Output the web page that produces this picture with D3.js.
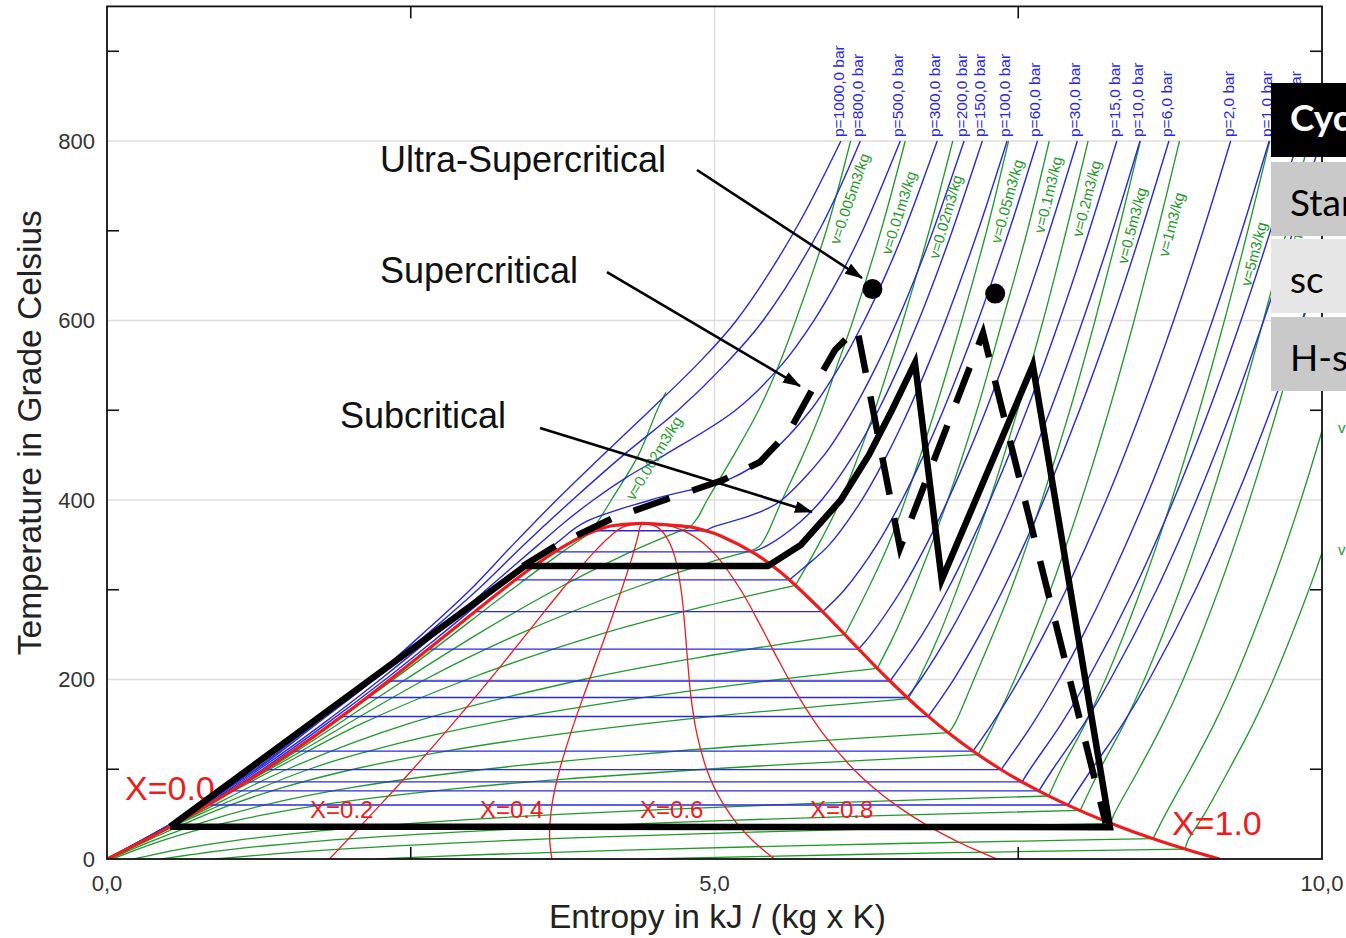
<!DOCTYPE html>
<html>
<head>
<meta charset="utf-8">
<title>Temperature-entropy diagram of water with Rankine cycles</title>
<script src="https://cdn.jsdelivr.net/npm/d3@7/dist/d3.min.js"></script>
<style>
  html, body { margin: 0; padding: 0; background: #fff; }
  svg { display: block; font-family: "Liberation Sans", Arial, sans-serif; }
</style>
</head>
<body>
<svg id="chart" width="1346" height="938"></svg>
<script>
// ---------------- data ----------------
// Saturation curve: temperature (°C), entropy of saturated liquid / vapour (kJ/kg K)
const satT  = [0.01, 10, 20, 30, 40, 50, 60, 70, 80, 90, 100, 120, 140, 160, 180, 200, 220, 240, 260, 280, 300, 320, 340, 360, 365, 370, 372, 373.5, 373.95];
const satSf = [0, 0.1511, 0.2965, 0.4368, 0.5724, 0.7038, 0.8313, 0.9551, 1.0756, 1.1929, 1.3072, 1.5279, 1.7392, 1.9426, 2.1392, 2.3305, 2.5177, 2.7020, 2.8849, 3.0685, 3.2552, 3.4494, 3.6601, 3.9167, 4.0026, 4.1112, 4.20, 4.32, 4.407];
const satSg = [9.1556, 8.8999, 8.6661, 8.4520, 8.2557, 8.0753, 7.9085, 7.7540, 7.6106, 7.4767, 7.3541, 7.1296, 6.9299, 6.7502, 6.5857, 6.4323, 6.2861, 6.1437, 6.0019, 5.8571, 5.7049, 5.5393, 5.3357, 5.0526, 4.9463, 4.8012, 4.64, 4.50, 4.407];

// Lines of constant vapour quality X inside the two-phase dome
const qualityX = [0.2, 0.4, 0.6, 0.8];
const qualityT = [0.01, 20, 40, 60, 80, 100, 140, 180, 220, 260, 300, 340, 360, 370, 373.95];
const qualityS = [
  [1.831, 1.970, 2.109, 2.247, 2.383, 2.517, 2.777, 3.029, 3.271, 3.508, 3.745, 3.995, 4.144, 4.249, 4.407],
  [3.662, 3.644, 3.646, 3.662, 3.690, 3.726, 3.816, 3.918, 4.025, 4.132, 4.235, 4.330, 4.371, 4.387, 4.407],
  [5.493, 5.318, 5.182, 5.078, 4.997, 4.935, 4.854, 4.807, 4.779, 4.755, 4.725, 4.666, 4.598, 4.525, 4.407],
  [7.325, 6.992, 6.719, 6.493, 6.304, 6.145, 5.892, 5.696, 5.532, 5.379, 5.215, 5.001, 4.825, 4.663, 4.407]
];

// Isobars (bar)
const isobarP = [1000, 800, 500, 300, 200, 150, 100, 60, 30, 15, 10, 6, 2, 1, 0.6, 0.4, 0.2];
// supercritical isobars, [T, s] from the compressed liquid up to 800 °C
const superIsobars = {
  1000: [[0, 0], [50, 0.66], [100, 1.22], [150, 1.70], [200, 2.17], [250, 2.59], [300, 2.99], [350, 3.34], [400, 3.70], [450, 4.08], [500, 4.47], [550, 4.85], [600, 5.18], [700, 5.66], [800, 6.04]],
  800:  [[0, 0], [50, 0.67], [100, 1.235], [150, 1.72], [200, 2.20], [250, 2.63], [300, 3.05], [350, 3.43], [400, 3.83], [450, 4.25], [500, 4.70], [550, 5.08], [600, 5.40], [700, 5.86], [800, 6.20]],
  500:  [[0, 0], [50, 0.69], [100, 1.254], [150, 1.77], [200, 2.249], [250, 2.70], [300, 3.121], [350, 3.55], [375, 3.764], [400, 4.003], [425, 4.273], [450, 4.588], [500, 5.173], [550, 5.549], [600, 5.818], [650, 6.034], [700, 6.219], [800, 6.529]],
  300:  [[0, 0], [50, 0.70], [100, 1.28], [150, 1.80], [200, 2.29], [250, 2.75], [300, 3.20], [350, 3.68], [375, 3.93], [400, 4.473], [425, 5.150], [450, 5.442], [500, 5.790], [550, 6.034], [600, 6.233], [650, 6.406], [700, 6.561], [800, 6.833]]
};
// subcritical isobars: saturation temperature, liquid and vapour entropy
const isobarSat = {
  200: [365.8, 4.016, 4.930], 150: [342.2, 3.685, 5.310], 100: [311.0, 3.360, 5.616],
  60: [275.6, 3.027, 5.890], 30: [233.9, 2.645, 6.186], 15: [198.3, 2.314, 6.445],
  10: [179.9, 2.138, 6.585], 6: [158.8, 1.931, 6.759], 2: [120.2, 1.530, 7.127],
  1: [99.6, 1.303, 7.359], 0.6: [85.9, 1.145, 7.532], 0.4: [75.9, 1.026, 7.670],
  0.2: [60.1, 0.832, 7.909]
};
// superheated branch of the subcritical isobars, [T, s]
const isobarVapour = {
  200: [[370, 4.99], [380, 5.24], [390, 5.43], [400, 5.554], [450, 5.902], [500, 6.140], [550, 6.335], [600, 6.505], [650, 6.658], [700, 6.799], [800, 7.054]],
  150: [[350, 5.444], [375, 5.70], [400, 5.882], [450, 6.143], [500, 6.348], [550, 6.523], [600, 6.680], [650, 6.823], [700, 6.957], [800, 7.204]],
  100: [[325, 5.74], [350, 5.944], [400, 6.212], [450, 6.419], [500, 6.597], [550, 6.756], [600, 6.903], [700, 7.169], [800, 7.408]],
  60:  [[300, 6.070], [350, 6.336], [400, 6.543], [450, 6.722], [500, 6.883], [600, 7.169], [700, 7.425], [800, 7.658]],
  30:  [[250, 6.287], [300, 6.539], [350, 6.743], [400, 6.921], [450, 7.083], [500, 7.234], [600, 7.509], [700, 7.757], [800, 7.986]],
  15:  [[250, 6.709], [300, 6.918], [350, 7.102], [400, 7.269], [500, 7.570], [600, 7.839], [700, 8.084], [800, 8.311]],
  10:  [[200, 6.696], [250, 6.927], [300, 7.125], [350, 7.303], [400, 7.467], [500, 7.764], [600, 8.031], [700, 8.276], [800, 8.502]],
  6:   [[200, 6.968], [250, 7.183], [300, 7.374], [350, 7.548], [400, 7.710], [500, 8.004], [600, 8.270], [700, 8.513], [800, 8.740]],
  2:   [[150, 7.281], [200, 7.508], [250, 7.710], [300, 7.894], [400, 8.224], [500, 8.515], [600, 8.779], [700, 9.022], [800, 9.248]],
  1:   [[150, 7.615], [200, 7.836], [250, 8.035], [300, 8.216], [400, 8.544], [500, 8.834], [600, 9.098], [700, 9.340], [800, 9.565]],
  0.6: [[100, 7.597], [150, 7.851], [200, 8.071], [300, 8.452], [400, 8.779], [500, 9.070], [600, 9.333], [700, 9.576], [800, 9.801]],
  0.4: [[100, 7.784], [150, 8.038], [200, 8.258], [300, 8.639], [400, 8.966], [500, 9.257], [600, 9.520], [700, 9.763], [800, 9.988]],
  0.2: [[100, 8.104], [150, 8.358], [200, 8.578], [300, 8.959], [400, 9.286], [500, 9.577], [600, 9.840], [700, 10.083]]
};
const labelledIsobars = [1000, 800, 500, 300, 200, 150, 100, 60, 30, 15, 10, 6, 2, 1, 0.6];

// Isochores (m3/kg): two-phase branch and single-phase branch, [T, s]
const isochoreV = [0.002, 0.005, 0.01, 0.02, 0.05, 0.1, 0.2, 0.5, 1, 5, 10, 20, 50, 100];
const isochoreWet = {
  0.002: [[0, 0], [100, 1.311], [200, 2.358], [300, 3.328], [340, 3.726], [363.5, 3.98]],
  0.005: [[0, 0], [100, 1.322], [200, 2.456], [250, 3.044], [300, 3.690], [340, 4.275], [360, 4.615], [369.8, 4.80]],
  0.01:  [[0, 0], [100, 1.34], [200, 2.618], [250, 3.380], [300, 4.295], [330, 4.946], [343, 5.29]],
  0.02:  [[0, 0], [100, 1.376], [150, 2.083], [200, 2.963], [250, 4.051], [280, 4.873], [305, 5.666]],
  0.05:  [[0, 0], [50, 0.734], [100, 1.484], [150, 2.465], [200, 3.920], [225, 4.891], [240, 5.572], [250, 6.073]],
  0.1:   [[0, 0], [50, 0.765], [100, 1.662], [120, 2.149], [140, 2.749], [160, 3.496], [180, 4.422], [200, 5.533], [212.4, 6.34]],
  0.2:   [[0, 0], [20, 0.325], [40, 0.651], [60, 1.012], [80, 1.457], [100, 2.027], [120, 2.780], [140, 3.773], [160, 5.068], [178.8, 6.596]],
  0.5:   [[0, 0.022], [20, 0.369], [40, 0.769], [60, 1.292], [80, 2.033], [100, 3.112], [120, 4.667], [130, 5.667], [140.7, 6.927]],
  1:     [[0, 0.044], [20, 0.441], [40, 0.966], [60, 1.754], [80, 2.993], [90, 3.853], [100, 4.920], [110, 6.226], [116.2, 7.17]],
  5:     [[0, 0.222], [10, 0.562], [20, 1.021], [30, 1.655], [40, 2.539], [50, 3.767], [60, 5.446], [65, 6.49], [70.2, 7.751]],
  10:    [[0, 0.444], [10, 0.974], [20, 1.745], [30, 2.874], [40, 4.507], [45, 5.573], [50, 6.826], [54.2, 8.01]],
  20:    [[0, 0.888], [10, 1.797], [20, 3.194], [25, 4.145], [30, 5.310], [35, 6.727], [39.6, 8.26]],
  50:    [[0, 2.221], [5, 3.119], [10, 4.263], [15, 5.717], [20, 7.541], [22.7, 8.61]],
  100:   [[0, 4.44], [5, 6.16], [8, 7.423], [11, 8.876]]
};
const isochoreDry = {
  0.002: [[363.5, 3.98], [380, 4.06], [400, 4.151], [450, 4.374], [500, 4.528], [520, 4.60]],
  0.005: [[369.8, 4.80], [380, 4.86], [400, 4.94], [450, 5.159], [500, 5.363], [550, 5.528], [600, 5.668], [700, 5.92], [800, 6.12]],
  0.01:  [[343, 5.29], [350, 5.38], [400, 5.556], [450, 5.728], [500, 5.882], [550, 6.01], [600, 6.14], [700, 6.37], [800, 6.57]],
  0.02:  [[305, 5.666], [350, 5.855], [400, 6.04], [450, 6.186], [500, 6.319], [600, 6.552], [700, 6.767], [800, 6.961]],
  0.05:  [[250, 6.073], [300, 6.26], [350, 6.43], [400, 6.57], [500, 6.815], [600, 7.035], [700, 7.24], [800, 7.42]],
  0.1:   [[212.4, 6.34], [250, 6.48], [300, 6.64], [400, 6.92], [500, 7.16], [600, 7.37], [700, 7.575], [800, 7.755]],
  0.2:   [[178.8, 6.596], [200, 6.68], [250, 6.85], [300, 6.995], [400, 7.265], [500, 7.495], [600, 7.705], [700, 7.895], [800, 8.075]],
  0.5:   [[140.7, 6.927], [150, 6.975], [200, 7.135], [300, 7.44], [400, 7.695], [500, 7.925], [600, 8.132], [700, 8.325], [800, 8.505]],
  1:     [[116.2, 7.17], [150, 7.30], [200, 7.47], [300, 7.765], [400, 8.02], [500, 8.247], [600, 8.454], [700, 8.647], [800, 8.827]],
  5:     [[70.2, 7.751], [100, 7.853], [150, 8.049], [200, 8.218], [300, 8.510], [400, 8.763], [500, 8.990], [600, 9.197], [700, 9.389], [800, 9.570]],
  10:    [[54.2, 8.01], [100, 8.173], [150, 8.369], [200, 8.538], [300, 8.830], [400, 9.083], [500, 9.310], [600, 9.517], [700, 9.709], [800, 9.890]],
  20:    [[39.6, 8.26], [50, 8.289], [100, 8.493], [150, 8.688], [200, 8.858], [300, 9.149], [400, 9.403], [500, 9.630], [600, 9.837], [700, 10.03]],
  50:    [[22.7, 8.61], [50, 8.712], [100, 8.916], [150, 9.111], [200, 9.281], [300, 9.572], [400, 9.826], [500, 10.05]],
  100:   [[11, 8.876], [20, 8.894], [50, 9.032], [100, 9.236], [150, 9.431], [200, 9.600], [300, 9.892], [400, 10.146]]
};
// temperature at which each isochore label starts ("edge": label just outside the right border)
const isochoreLabelT = {0.002: 410, 0.005: 690, 0.01: 678, 0.02: 673, 0.05: 690, 0.1: 701, 0.2: 697, 0.5: 667, 1: 675, 5: 642, 10: 650, 50: "edge", 100: "edge"};

// Axis ticks
const tempMajor = [0, 200, 400, 600, 800];
const tempMinor = [100, 300, 500, 700, 900];
const entropyMajor = [0, 5, 10];
const entropyMinor = [2.5, 7.5];
const entropyTickLabels = ["0,0", "5,0", "10,0"];

// Rankine cycles, [s, T]
const subcriticalCycle = [[0.52, 36], [3.44, 326.5], [5.44, 326.5], [5.71, 350], [6.04, 400], [6.27, 450], [6.46, 500], [6.65, 553], [6.87, 311], [7.62, 550], [8.255, 35.5], [0.52, 36]];
const supercriticalCycle = [[3.424, 326.5], [3.704, 349.9], [4.165, 379.9], [4.658, 403.3], [5.070, 422.3], [5.374, 442.3], [5.621, 478.0], [5.802, 522.6], [5.992, 567.1], [6.173, 591.6], [6.527, 346.5], [7.210, 586.1], [8.22, 40]];
const ultraPeaks = [[6.30, 635], [7.31, 630]];

// Annotations: label anchor and arrow from/to, [s, T]
const annotations = [
  {text: "Ultra-Supercritical", at: [2.247, 765.5], from: [4.856, 767.7], to: [6.214, 647.4]},
  {text: "Supercritical",       at: [2.247, 641.8], from: [4.115, 654.0], to: [5.704, 527.0]},
  {text: "Subcritical",         at: [1.918, 480.2], from: [3.564, 480.2], to: [5.802, 386.6]}
];
const qualityLabels = [
  {text: "X=0.0", at: [0.148, 65.7], big: true},
  {text: "X=0.2", at: [1.671, 45.7], big: false},
  {text: "X=0.4", at: [3.070, 45.7], big: false},
  {text: "X=0.6", at: [4.387, 45.7], big: false},
  {text: "X=0.8", at: [5.786, 45.7], big: false},
  {text: "X=1.0", at: [8.765, 26.7], big: true}
];

// Legend table
const tableHeader = "Cycle";
const tableRows = ["Standard", "sc", "H-sc"];

// ---------------- drawing ----------------
const svg = d3.select("#chart");
const x = d3.scaleLinear().domain([0, 10]).range([107, 1322]);
const y = d3.scaleLinear().domain([0, 950]).range([859, 6.4]);
const X0 = x(0), X1 = x(10), Y0 = y(0), Y1 = y(950);

const BLUE = "#2828e4", GREEN = "#1f9a2a", RED = "#ee1c1c";

const defs = svg.append("defs");
defs.append("clipPath").attr("id", "plotClip").append("rect")
  .attr("x", X0).attr("y", Y1).attr("width", X1 - X0).attr("height", Y0 - Y1);
defs.append("marker").attr("id", "arrowHead")
  .attr("viewBox", "0 0 18 12").attr("refX", 17).attr("refY", 6)
  .attr("markerWidth", 18).attr("markerHeight", 12)
  .attr("markerUnits", "userSpaceOnUse").attr("orient", "auto")
  .append("path").attr("d", "M0,0 L18,6 L0,12 Z").attr("fill", "#000");

// grid
const grid = svg.append("g").attr("stroke", "#dcdcdc").attr("stroke-width", 1.3);
grid.selectAll("line.h").data(tempMajor.filter(t => t > 0)).join("line")
  .attr("x1", X0).attr("x2", X1).attr("y1", d => y(d)).attr("y2", d => y(d));
grid.selectAll("line.v").data(entropyMajor.filter(s => s > 0 && s < 10)).join("line")
  .attr("y1", Y0).attr("y2", Y1).attr("x1", d => x(d)).attr("x2", d => x(d));

const plot = svg.append("g").attr("clip-path", "url(#plotClip)");
const tsLinear = d3.line().x(d => x(d[1])).y(d => y(d[0]));
const tsSmooth = d3.line().x(d => x(d[1])).y(d => y(d[0])).curve(d3.curveCatmullRom.alpha(0.5));

// isochores
const gIso = plot.append("g").attr("fill", "none").attr("stroke", GREEN).attr("stroke-width", 1.3);
isochoreV.forEach(v => {
  gIso.append("path").attr("d", tsSmooth(isochoreWet[v]));
  gIso.append("path").attr("d", tsSmooth(isochoreDry[v]));
});

// isobars
const gBar = plot.append("g").attr("fill", "none").attr("stroke", BLUE).attr("stroke-width", 1.4);
const satLiquid = satT.map((t, i) => [t, satSf[i]]);
isobarP.forEach(p => {
  if (superIsobars[p]) {
    gBar.append("path").attr("d", tsSmooth(superIsobars[p]));
  } else {
    const [ts, sf, sg] = isobarSat[p];
    const liquid = satLiquid.filter(d => d[0] < ts).concat([[ts, sf], [ts, sg]]);
    gBar.append("path").attr("d", tsLinear(liquid));
    gBar.append("path").attr("d", tsSmooth([[ts, sg]].concat(isobarVapour[p])));
  }
});

// quality lines and saturation dome
const gRed = plot.append("g").attr("fill", "none").attr("stroke", RED);
qualityX.forEach((q, i) => {
  gRed.append("path").attr("stroke-width", 1.3)
    .attr("d", tsSmooth(qualityT.map((t, j) => [t, qualityS[i][j]])));
});
const dome = satT.map((t, i) => [t, satSf[i]])
  .concat(satT.map((t, i) => [t, satSg[i]]).reverse().slice(1));
gRed.append("path").attr("stroke-width", 3.2).attr("d", tsSmooth(dome));

// frame and ticks
svg.append("rect").attr("x", X0).attr("y", Y1).attr("width", X1 - X0).attr("height", Y0 - Y1)
  .attr("fill", "none").attr("stroke", "#111").attr("stroke-width", 1.8);
const ticks = svg.append("g").attr("stroke", "#111").attr("stroke-width", 1.6);
tempMinor.forEach(t => {
  ticks.append("line").attr("x1", X0).attr("x2", X0 + 12).attr("y1", y(t)).attr("y2", y(t));
  ticks.append("line").attr("x1", X1).attr("x2", X1 - 12).attr("y1", y(t)).attr("y2", y(t));
});
entropyMinor.forEach(s => {
  ticks.append("line").attr("x1", x(s)).attr("x2", x(s)).attr("y1", Y0).attr("y2", Y0 - 12);
  ticks.append("line").attr("x1", x(s)).attr("x2", x(s)).attr("y1", Y1).attr("y2", Y1 + 12);
});

// tick labels
svg.append("g").selectAll("text").data(tempMajor).join("text")
  .attr("x", X0 - 12).attr("y", d => y(d)).attr("dy", "0.36em")
  .attr("text-anchor", "end").attr("font-size", 22).attr("fill", "#333")
  .text(d => d);
svg.append("g").selectAll("text").data(entropyMajor).join("text")
  .attr("x", d => x(d)).attr("y", 891)
  .attr("text-anchor", "middle").attr("font-size", 22).attr("fill", "#333")
  .text((d, i) => entropyTickLabels[i]);

// axis titles
svg.append("text").attr("transform", `translate(41,${(Y0 + Y1) / 2}) rotate(-90)`)
  .attr("text-anchor", "middle").attr("font-size", 33.5).attr("fill", "#222")
  .text("Temperature in Grade Celsius");
svg.append("text").attr("x", (X0 + X1) / 2 + 3).attr("y", 928)
  .attr("text-anchor", "middle").attr("font-size", 33.5).attr("fill", "#222")
  .text("Entropy in kJ / (kg x K)");

// isobar labels at the 800 °C end of each line
const fmtP = p => p.toFixed(1).replace(".", ",");
svg.append("g").selectAll("text").data(labelledIsobars).join("text")
  .attr("transform", p => {
    const pts = superIsobars[p] || isobarVapour[p];
    const end = pts[pts.length - 1];
    return `translate(${x(end[1]) + 3},${y(end[0]) - 4}) rotate(-90)`;
  })
  .attr("font-size", 15.5).attr("fill", BLUE)
  .text(p => `p=${fmtP(p)} bar`);

// isochore labels, running along their lines
function labelPlacement(v) {
  const pts = isochoreDry[v];
  const T = isochoreLabelT[v];
  if (T === undefined) return null;
  const edge = T === "edge";
  for (let i = 1; i < pts.length; i++) {
    const a = pts[i - 1], b = pts[i];
    let t = null;
    if (!edge && T >= a[0] && T <= b[0]) t = (T - a[0]) / (b[0] - a[0]);
    if (edge && a[1] <= 10 && b[1] >= 10) t = (10 - a[1]) / (b[1] - a[1]);
    if (t !== null) {
      const px = x(a[1] + t * (b[1] - a[1])), py = y(a[0] + t * (b[0] - a[0]));
      const ang = Math.atan2(y(b[0]) - y(a[0]), x(b[1]) - x(a[1]));
      return {px, py, ang, edge};
    }
  }
  return null;
}
const gVl = svg.append("g").attr("font-size", 15).attr("fill", GREEN);
isochoreV.forEach(v => {
  const p = labelPlacement(v);
  if (!p) return;
  if (p.edge) {
    // names of the lines that leave through the right border sit just outside it
    gVl.append("text").attr("x", p.px + 16).attr("y", p.py + 3).text(`v=${v}m3/kg`);
    return;
  }
  const off = v === 0.002 ? 20 : 17;
  const ox = p.px - Math.sin(p.ang) * off, oy = p.py + Math.cos(p.ang) * off;
  gVl.append("text")
    .attr("transform", `translate(${ox},${oy}) rotate(${p.ang * 180 / Math.PI})`)
    .text(`v=${v}m3/kg`);
});

// quality labels
svg.append("g").selectAll("text").data(qualityLabels).join("text")
  .attr("x", d => x(d.at[0])).attr("y", d => y(d.at[1]))
  .attr("font-size", d => d.big ? 34 : 24).attr("fill", RED)
  .text(d => d.text);

// cycles
const sT = d3.line().x(d => x(d[0])).y(d => y(d[1]));
svg.append("path").attr("d", sT(subcriticalCycle)).attr("fill", "none")
  .attr("stroke", "#000").attr("stroke-width", 6.5).attr("stroke-linejoin", "miter").attr("stroke-miterlimit", 6);
svg.append("path").attr("d", sT(supercriticalCycle)).attr("fill", "none")
  .attr("stroke", "#000").attr("stroke-width", 6.5).attr("stroke-dasharray", "38 24").attr("stroke-linejoin", "miter");
svg.append("g").selectAll("circle").data(ultraPeaks).join("circle")
  .attr("cx", d => x(d[0])).attr("cy", d => y(d[1])).attr("r", 10).attr("fill", "#000");

// annotations
const gAnn = svg.append("g");
annotations.forEach(a => {
  gAnn.append("text").attr("x", x(a.at[0])).attr("y", y(a.at[1]))
    .attr("font-size", 36).attr("fill", "#111").text(a.text);
  gAnn.append("line")
    .attr("x1", x(a.from[0])).attr("y1", y(a.from[1]))
    .attr("x2", x(a.to[0])).attr("y2", y(a.to[1]))
    .attr("stroke", "#000").attr("stroke-width", 2.6).attr("marker-end", "url(#arrowHead)");
});

// legend table
const gTab = svg.append("g").attr("font-family", "Lato, 'Open Sans', sans-serif");
gTab.append("rect").attr("x", 1271).attr("y", 83).attr("width", 90).attr("height", 74).attr("fill", "#000");
gTab.append("text").attr("x", 1290).attr("y", 131).attr("font-size", 37).attr("font-weight", "bold")
  .attr("fill", "#fff").text(tableHeader);
const rowY = [162, 239, 317], rowFill = ["#c9c9c9", "#e6e6e6", "#c9c9c9"];
tableRows.forEach((r, i) => {
  gTab.append("rect").attr("x", 1271).attr("y", rowY[i]).attr("width", 90).attr("height", 74).attr("fill", rowFill[i]);
  gTab.append("text").attr("x", 1290).attr("y", rowY[i] + 54).attr("font-size", 37).attr("fill", "#000").text(r);
});
</script>
</body>
</html>
